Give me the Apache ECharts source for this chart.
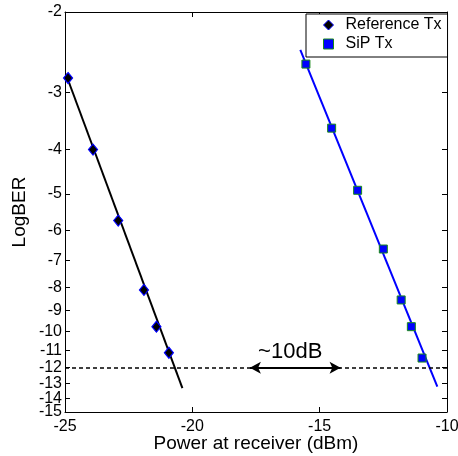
<!DOCTYPE html>
<html>
<head>
<meta charset="utf-8">
<script src="https://cdn.jsdelivr.net/npm/echarts@6/dist/echarts.min.js"></script>
<style>
  html, body { margin: 0; padding: 0; background: #fff; }
  #chart { width: 458px; height: 456px; }
</style>
</head>
<body>
<div id="chart"></div>
<script>
// measured points
var refPower = [-24.88, -23.90, -22.91, -21.90, -21.41, -20.92]
var refLogBER = [-2.79, -4.0, -5.72, -8.11, -9.76, -11.13]
var sipPower = [-15.54, -14.53, -13.51, -12.50, -11.80, -11.40, -10.98]
var sipLogBER = [-2.60, -3.59, -4.91, -6.60, -8.53, -9.76, -11.43]

// fitted lines (end points)
var refFitPower = [-24.97, -20.39]
var refFitLogBER = [-2.73, -13.3]
var sipFitPower = [-15.76, -10.38]
var sipFitLogBER = [-2.42, -13.2]

// threshold + gap annotation
var thresholdLogBER = -12
var gapPower = [-17.74, -14.18]
var gapLabel = '~10dB'

var yTicks = [-2, -3, -4, -5, -6, -7, -8, -9, -10, -11, -12, -13, -14, -15]
var xTicks = [-25, -20, -15, -10]

// BER axis is log10(-LogBER)
function t(v) { return Math.log10(-v) }
function pairs(xs, ys) { return xs.map(function (x, i) { return [x, t(ys[i])] }) }

var yTickVals = yTicks.map(t)
// label order: keep the tightly packed -14 away from the ends of the list,
// otherwise the min/max overlap check drops one of the bottom labels
var yLabelVals = [yTicks[12]].concat(yTicks.slice(0, 12), [yTicks[13]]).map(t)
var font = 'Liberation Sans, Arial, sans-serif'

var chart = echarts.init(document.getElementById('chart'))

var yBase = {
  type: 'value',
  min: t(yTicks[0]),
  max: t(yTicks[yTicks.length - 1]),
  inverse: true,
  axisLine: { show: true, lineStyle: { color: '#000', width: 1 } },
  axisTick: { show: true, inside: true, length: 5, customValues: yTickVals, lineStyle: { color: '#000' } },
  splitLine: { show: false }
}

var xBase = {
  type: 'value',
  min: xTicks[0],
  max: xTicks[xTicks.length - 1],
  interval: 5,
  axisLine: { show: true, onZero: false, lineStyle: { color: '#000', width: 1 } },
  axisTick: { show: true, inside: true, length: 5, lineStyle: { color: '#000' } },
  splitLine: { show: false }
}

var option = {
  animation: false,
  backgroundColor: '#fff',
  textStyle: { fontFamily: font },
  grid: { left: 65, right: 11, top: 12, bottom: 44, containLabel: false, outerBoundsMode: 'none' },
  legend: {
    orient: 'vertical',
    left: 306,
    top: 14,
    padding: [3, 6, 5, 17],
    itemGap: 3,
    itemWidth: 10,
    itemHeight: 10,
    backgroundColor: '#fff',
    borderColor: '#000',
    borderWidth: 1,
    borderRadius: 0,
    textStyle: { fontSize: 16, color: '#000', fontFamily: font, padding: [0, 0, 0, 7] },
    data: [
      { name: 'Reference Tx', icon: 'diamond', itemStyle: { color: '#000', borderColor: '#0000ff', borderWidth: 1 } },
      { name: 'SiP Tx', icon: 'rect', itemStyle: { color: '#0000ff', borderColor: '#1a8a1a', borderWidth: 1 } }
    ]
  },
  xAxis: [
    Object.assign({}, xBase, {
      position: 'bottom',
      name: 'Power at receiver (dBm)',
      nameLocation: 'middle',
      nameGap: 22,
      nameMoveOverlap: false,
      nameTextStyle: { fontSize: 19, color: '#000', fontFamily: font },
      axisLabel: { fontSize: 16, color: '#000', margin: 7, fontFamily: font, showMinLabel: true, showMaxLabel: true }
    }),
    Object.assign({}, xBase, { position: 'top', axisLabel: { show: false } })
  ],
  yAxis: [
    Object.assign({}, yBase, {
      position: 'left',
      name: 'LogBER',
      nameLocation: 'middle',
      nameGap: 36,
      nameMoveOverlap: false,
      nameTextStyle: { fontSize: 19, color: '#000', fontFamily: font },
      axisLabel: {
        fontSize: 16, color: '#000', margin: 3, fontFamily: font,
        hideOverlap: false,
        customValues: yLabelVals,
        formatter: function (v) { return String(-Math.round(Math.pow(10, v))) }
      }
    }),
    Object.assign({}, yBase, { position: 'right', axisLabel: { show: false } })
  ],
  series: [
    {
      name: 'Reference fit',
      type: 'line',
      data: pairs(refFitPower, refFitLogBER),
      showSymbol: false,
      lineStyle: { color: '#000', width: 2 },
      z: 2
    },
    {
      name: 'SiP fit',
      type: 'line',
      data: pairs(sipFitPower, sipFitLogBER),
      showSymbol: false,
      lineStyle: { color: '#0000ff', width: 2 },
      z: 2,
      markLine: {
        silent: true,
        symbol: 'none',
        label: { show: false },
        lineStyle: { color: '#000', type: [4, 3], width: 1.5 },
        data: [{ yAxis: t(thresholdLogBER) }]
      }
    },
    {
      name: 'Reference Tx',
      type: 'scatter',
      data: pairs(refPower, refLogBER),
      symbol: 'diamond',
      symbolSize: [9, 11],
      itemStyle: { color: '#000', borderColor: '#0000ff', borderWidth: 1.2, opacity: 1 },
      z: 3
    },
    {
      name: 'SiP Tx',
      type: 'scatter',
      data: pairs(sipPower, sipLogBER),
      symbol: 'rect',
      symbolSize: 8,
      itemStyle: { color: '#0000ff', borderColor: '#1a8a1a', borderWidth: 1, opacity: 1 },
      z: 3,
      markLine: {
        silent: true,
        symbol: ['arrow', 'arrow'],
        symbolSize: [9, 11],
        lineStyle: { color: '#000', type: 'solid', width: 2 },
        label: {
          show: true,
          position: 'middle',
          formatter: gapLabel,
          fontSize: 22,
          color: '#000',
          fontFamily: font,
          distance: 5,
          offset: [-5, 0]
        },
        data: [[
          { coord: [gapPower[0], t(thresholdLogBER)] },
          { coord: [gapPower[1], t(thresholdLogBER)] }
        ]]
      }
    }
  ]
}

chart.setOption(option)
</script>
</body>
</html>
